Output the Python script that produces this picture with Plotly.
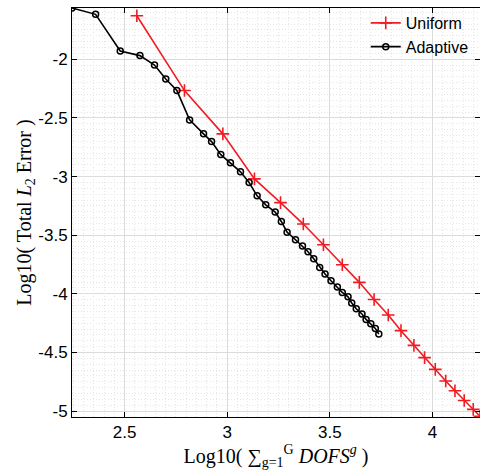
import plotly.graph_objects as go

# Adaptive refinement: log10(total DOFs) vs log10(total L2 error)
adaptive_x = [2.244, 2.359, 2.479, 2.575, 2.646, 2.701, 2.755, 2.817, 2.885, 2.924,
              2.969, 3.016, 3.065, 3.107, 3.146, 3.188, 3.234, 3.264, 3.292, 3.333,
              3.367, 3.394, 3.422, 3.451, 3.477, 3.506, 3.537, 3.561, 3.589, 3.607,
              3.629, 3.657, 3.677, 3.700, 3.722, 3.739]
adaptive_y = [-1.563, -1.617, -1.929, -1.969, -2.049, -2.168, -2.267, -2.517, -2.636, -2.702,
              -2.813, -2.883, -2.960, -3.051, -3.164, -3.241, -3.303, -3.383, -3.474, -3.539,
              -3.593, -3.641, -3.701, -3.775, -3.831, -3.888, -3.942, -3.988, -4.025, -4.078,
              -4.127, -4.172, -4.218, -4.255, -4.295, -4.342]

# Uniform refinement
uniform_x = [2.560, 2.792, 2.979, 3.133, 3.260, 3.371, 3.469, 3.561, 3.644, 3.716,
             3.785, 3.847, 3.910, 3.962, 4.014, 4.065, 4.110, 4.155, 4.199, 4.232]
uniform_y = [-1.629, -2.267, -2.636, -3.020, -3.222, -3.405, -3.582, -3.752, -3.902, -4.048,
             -4.181, -4.314, -4.439, -4.544, -4.644, -4.743, -4.826, -4.909, -4.985, -5.044]

x_tickvals = [2.5, 3.0, 3.5, 4.0]
x_ticktext = ["2.5", "3", "3.5", "4"]
y_tickvals = [-2.0, -2.5, -3.0, -3.5, -4.0, -4.5, -5.0]
y_ticktext = ["-2", "-2.5", "-3", "-3.5", "-4", "-4.5", "-5"]

RED = "#f01c24"
TICK_FONT = dict(family="Liberation Sans, Arial, sans-serif", size=17, color="black")
TITLE_FONT = dict(family="Liberation Serif, Times New Roman, serif", size=20, color="black")

fig = go.Figure()
fig.add_trace(go.Scatter(
    x=uniform_x, y=uniform_y, mode="lines+markers", name="Uniform",
    line=dict(color=RED, width=1.6),
    marker=dict(symbol="cross-thin", size=9, color=RED, line=dict(color=RED, width=1.6)),
))
fig.add_trace(go.Scatter(
    x=adaptive_x, y=adaptive_y, mode="lines+markers", name="Adaptive",
    line=dict(color="black", width=1.6),
    marker=dict(symbol="circle-open", size=6, color="black", line=dict(color="black", width=1.5)),
))

axis_common = dict(
    ticks="inside", ticklen=5, tickwidth=1, tickcolor="black",
    showline=True, linecolor="black", linewidth=1, mirror="ticks",
    showgrid=True, gridcolor="#dcdcdc", gridwidth=1,
    zeroline=False, tickfont=TICK_FONT,
)
minor_common = dict(dtick=0.05, showgrid=True, gridcolor="#e6e6e6", griddash="1px,2px", gridwidth=1)

fig.update_xaxes(
    range=[2.244, 4.232], tickmode="array", tickvals=x_tickvals, ticktext=x_ticktext,
    minor=dict(tick0=2.0, **minor_common),
    title=dict(text="Log10( ∑<sub>g=1</sub><sup>G</sup> <i>DOFS<sup>g</sup></i> )",
               font=TITLE_FONT, standoff=0),
    **axis_common,
)
fig.update_yaxes(
    range=[-5.05, -1.563], tickmode="array", tickvals=y_tickvals, ticktext=y_ticktext,
    minor=dict(tick0=-5.0, **minor_common),
    title=dict(text="Log10( Total <i>L</i><sub>2</sub> Error )", font=TITLE_FONT, standoff=1),
    **axis_common,
)

fig.update_layout(
    width=480, height=470,
    margin=dict(l=72, r=0, t=8, b=53, autoexpand=False),
    plot_bgcolor="white", paper_bgcolor="white",
    legend=dict(x=0.72, y=1.005, xanchor="left", yanchor="top",
                bgcolor="rgba(0,0,0,0)", borderwidth=0,
                font=dict(family="Liberation Sans, Arial, sans-serif", size=16, color="black"),
                tracegroupgap=0, itemwidth=30),
    showlegend=True,
)

fig.write_html("out.html", config={"displayModeBar": False},
               post_script="document.body.style.margin='0';")
